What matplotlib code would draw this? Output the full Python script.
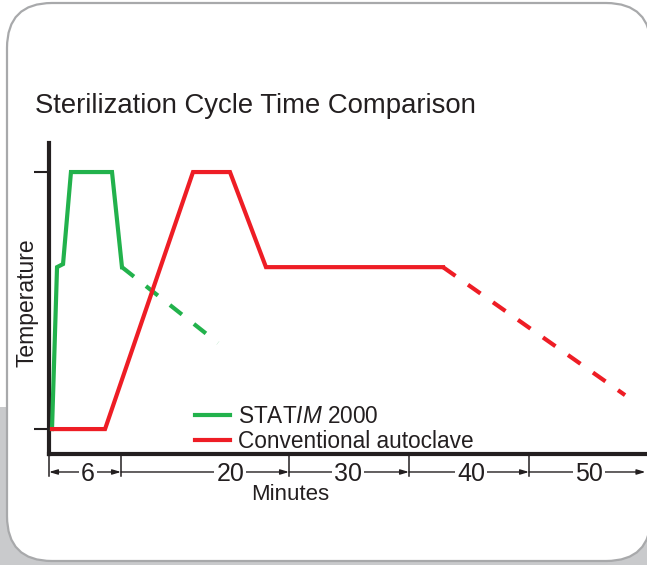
import matplotlib
matplotlib.use('Agg')
from matplotlib import pyplot as plt
from matplotlib.patches import FancyBboxPatch, Rectangle

plt.rcParams['font.family'] = ['Liberation Sans', 'DejaVu Sans']
plt.rcParams['mathtext.fontset'] = 'custom'
plt.rcParams['mathtext.it'] = 'Liberation Sans:italic'
plt.rcParams['mathtext.rm'] = 'Liberation Sans'
plt.rcParams['lines.scale_dashes'] = False

# STATIM 2000 cycle (minutes, relative temperature 0 = start, 1 = sterilizing)
statim_min = [0.25, 0.67, 1.17, 1.83, 5.25, 6.08]
statim_temp = [0.0, 0.63, 0.642, 1.0, 1.0, 0.63]
statim_cool_min = [6.08, 14.08]
statim_cool_temp = [0.63, 0.335]

# conventional autoclave cycle
autoclave_min = [0.25, 4.67, 12.0, 15.08, 18.08, 32.83]
autoclave_temp = [0.0, 0.0, 1.0, 1.0, 0.63, 0.63]
autoclave_cool_min = [32.83, 48.0]
autoclave_cool_temp = [0.63, 0.132]

# time scale drawn under the axis
segment_start = [0, 6, 20, 30, 40]
segment_end = [6, 20, 30, 40, 49.7]
segment_label = ['6', '20', '30', '40', '50']
segment_label_at = [3.25, 15.1, 24.9, 35.2, 45.0]

temp_ticks = [0, 1]

GREEN = '#22b24c'
RED = '#ee1d25'
INK = '#231f20'

fig = plt.figure(figsize=(6.47, 5.65), dpi=100)
fig.patch.set_facecolor('white')

# grey backdrop and the rounded card
fig.patches.append(Rectangle((0, 0), 6.47, 1.58, transform=fig.dpi_scale_trans,
                             facecolor='#c9cacc', edgecolor='none', zorder=-10))
fig.patches.append(FancyBboxPatch((0.07, 0.04), 6.44, 5.58,
                                  boxstyle='round,pad=0,rounding_size=0.45',
                                  transform=fig.dpi_scale_trans,
                                  facecolor='white', edgecolor='#a8a9ab', linewidth=1.6, zorder=-9))

W, H = 647, 565
ax = fig.add_axes([49 / W, 1 - 454 / H, 598 / W, (454 - 143) / H])
ax.set_facecolor('none')
ax.set_xlim(0, 49.83)
ax.set_ylim(-0.097, 1.113)

for side in ['top', 'right']:
    ax.spines[side].set_visible(False)
for side in ['left', 'bottom']:
    ax.spines[side].set_linewidth(3)
    ax.spines[side].set_color(INK)

ax.set_yticks(temp_ticks)
ax.set_yticklabels([])
ax.tick_params(axis='y', direction='out', length=11, width=1.5, color=INK)
ax.set_xticks([])

ax.plot(statim_min, statim_temp, color=GREEN, lw=3, solid_joinstyle='miter',
        label='STAT$\\mathit{IM}$ 2000', zorder=3)
ax.plot(statim_cool_min, statim_cool_temp, color=GREEN, lw=3, dashes=(11, 11), zorder=3)
ax.plot(autoclave_min, autoclave_temp, color=RED, lw=3, solid_joinstyle='miter',
        label='Conventional autoclave', zorder=3)
ax.plot(autoclave_cool_min, autoclave_cool_temp, color=RED, lw=3, dashes=(11, 11), zorder=3)

ax.legend(loc='upper left', bbox_to_anchor=(146 / 598, 1 - (405 - 143) / 311), frameon=False,
          fontsize=16.3, handlelength=1.55, handletextpad=0.36, labelspacing=0.08,
          borderaxespad=0, borderpad=0, labelcolor=INK)

# dimension style time scale
line_y = -0.167
for i, (s, e) in enumerate(zip(segment_start, segment_end)):
    ax.plot([s, s], [-0.097, -0.182], color=INK, lw=1.1, clip_on=False)
    style = '<|-|>' if i == 0 else '-|>'
    ax.annotate('', xy=(e, line_y), xytext=(s, line_y), annotation_clip=False,
                arrowprops=dict(arrowstyle=style + ',head_length=0.5,head_width=0.15',
                                mutation_scale=10, lw=1, color=INK, shrinkA=0, shrinkB=0))
    ax.text(segment_label_at[i], line_y, segment_label[i], fontsize=18, color=INK,
            ha='center', va='center_baseline', clip_on=False, zorder=4,
            bbox=dict(facecolor='white', edgecolor='none', pad=1.5))

fig.text(35 / W, 1 - 106 / H, 'Sterilization Cycle Time Comparison', fontsize=19.8,
         color=INK, ha='left', va='center')
fig.text(290 / W, 1 - 495 / H, 'Minutes', fontsize=16, color=INK, ha='center', va='center')
fig.text(27 / W, 1 - 303 / H, 'Temperature', fontsize=16.5, color=INK, rotation=90,
         ha='center', va='center')

fig.savefig('out.png', dpi=100)
